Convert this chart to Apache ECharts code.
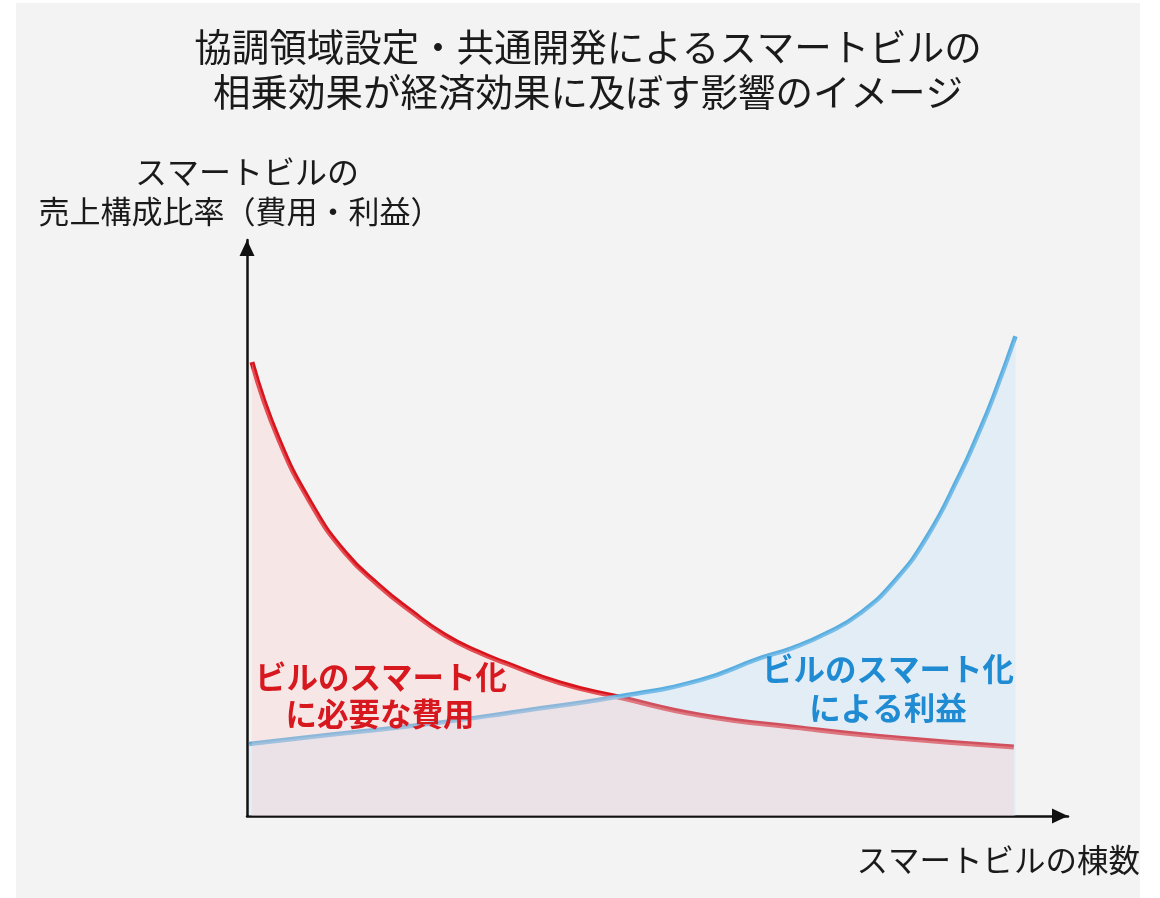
<!DOCTYPE html>
<html>
<head>
<meta charset="utf-8">
<script src="https://cdn.jsdelivr.net/npm/echarts@6/dist/echarts.min.js"></script>
<style>
  html, body { margin: 0; padding: 0; background: #ffffff; }
  #panel { position: absolute; left: 16px; top: 3px; width: 1124px; height: 895px; background: #f3f3f3; }
  #chart { position: absolute; left: 0; top: 0; width: 1160px; height: 898px; }
</style>
</head>
<body>
<div id="panel"></div>
<div id="chart"></div>
<script>
// Chart texts
const titleLines = ['協調領域設定・共通開発によるスマートビルの', '相乗効果が経済効果に及ぼす影響のイメージ'];
const yAxisNameLines = ['スマートビルの', '売上構成比率（費用・利益）'];
const xAxisName = 'スマートビルの棟数';
const costLabelLines = ['ビルのスマート化', 'に必要な費用'];
const profitLabelLines = ['ビルのスマート化', 'による利益'];

// Cost of making buildings smart (share of sales), by number of smart buildings
const costX = [0.6, 3.8, 7.9, 11.9, 16.0, 20.1, 24.1, 28.1, 31.4, 38.1, 45.1, 55.2, 67.4, 79.5, 93.4];
const costY = [78.8, 65.6, 54.0, 45.8, 40.1, 35.4, 31.4, 28.5, 26.6, 23.1, 20.7, 17.5, 15.3, 13.5, 12.0];

// Profit from making buildings smart (share of sales), by number of smart buildings
const profitX = [0.25, 10.1, 22.3, 33.3, 45.1, 55.2, 62.5, 66.5, 70.7, 74.7, 78.7, 82.8, 86.9, 88.9, 90.9, 93.6];
const profitY = [12.5, 14.1, 16.0, 18.2, 20.7, 23.6, 27.4, 29.2, 31.8, 35.2, 40.5, 48.4, 59.5, 65.8, 72.7, 83.3];

const zip = (xs, ys) => xs.map((x, i) => [x, ys[i]]);
const costData = zip(costX, costY);
const profitData = zip(profitX, profitY);

const FONT = '"Noto Sans CJK JP", "Noto Sans", sans-serif';
const RED = '#d8141c';
const BLUE = '#5aafe0';

const chart = echarts.init(document.getElementById('chart'), null, { renderer: 'canvas' });

const axisCommon = {
  type: 'value',
  min: 0,
  max: 100,
  axisLine: {
    show: true,
    symbol: ['none', 'triangle'],
    symbolSize: [15, 16],
    symbolOffset: [0, -8],
    lineStyle: { color: '#111111', width: 2.5 }
  },
  axisTick: { show: false },
  axisLabel: { show: false },
  splitLine: { show: false }
};

function textEl(text, x, y, size, color, weight, align) {
  return {
    type: 'text',
    z: 10,
    style: {
      text: text,
      x: x,
      y: y,
      align: align || 'center',
      verticalAlign: 'middle',
      fill: color,
      font: (weight || 'normal') + ' ' + size + 'px ' + FONT
    }
  };
}

const SMOOTH = 0.5;

const curveLine = (name, data, color, width) => ({
  name: name,
  type: 'line',
  data: data,
  smooth: SMOOTH,
  showSymbol: false,
  z: 2,
  lineStyle: { color: color, width: width, cap: 'butt' },
  silent: true
});

const curveArea = (name, data, fill, z) => ({
  name: name,
  type: 'line',
  data: data,
  smooth: SMOOTH,
  showSymbol: false,
  z: z,
  lineStyle: { width: 0, opacity: 0 },
  areaStyle: { color: fill, origin: 'start' },
  silent: true
});

chart.setOption({
  backgroundColor: 'transparent',
  animation: false,
  grid: { left: 247, top: 240, width: 821, height: 576 },
  xAxis: axisCommon,
  yAxis: axisCommon,
  series: [
    curveLine('費用', costData, RED, 5),
    curveLine('利益', profitData, BLUE, 4.5),
    curveArea('利益領域', profitData, 'rgba(190,225,253,0.42)', 3),
    curveArea('費用領域', costData, 'rgba(252,201,201,0.45)', 4)
  ],
  graphic: [
    textEl(titleLines[0], 588, 47, 37.5, '#1a1a1a'),
    textEl(titleLines[1], 588, 92, 37.5, '#1a1a1a'),
    textEl(yAxisNameLines[0], 247, 172, 32, '#1a1a1a'),
    textEl(yAxisNameLines[1], 240, 211, 31, '#1a1a1a'),
    textEl(xAxisName, 1140, 860, 31.5, '#1a1a1a', 'normal', 'right'),
    textEl(costLabelLines[0], 381, 677, 31.5, '#d7191f', 'bold'),
    textEl(costLabelLines[1], 380, 714, 31.5, '#d7191f', 'bold'),
    textEl(profitLabelLines[0], 888, 669, 31.5, '#1f8bd2', 'bold'),
    textEl(profitLabelLines[1], 888, 708, 31.5, '#1f8bd2', 'bold')
  ]
});
</script>
</body>
</html>
